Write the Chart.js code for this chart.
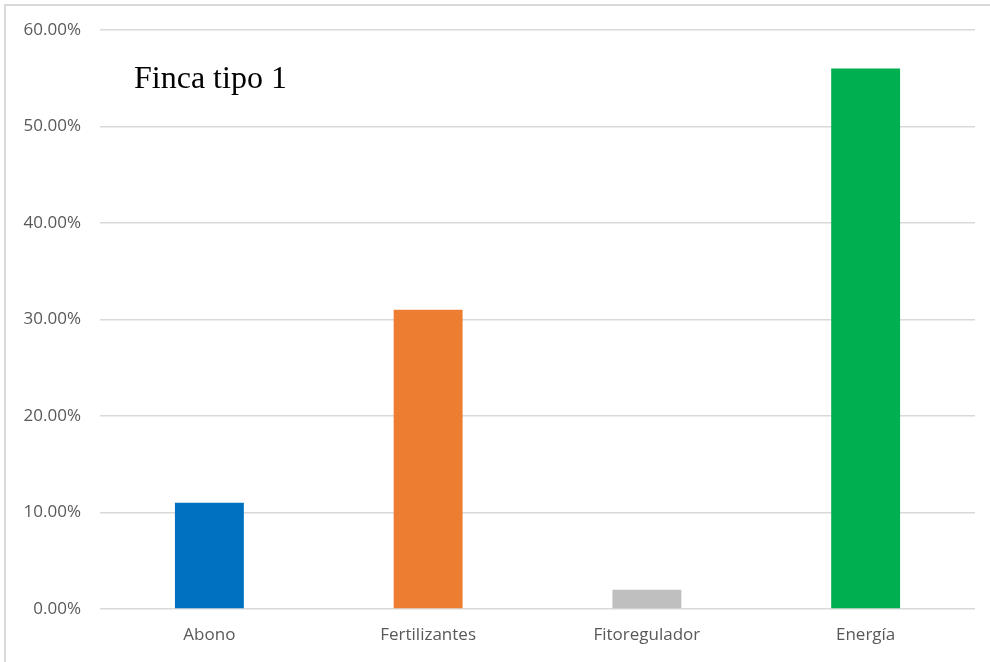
<!DOCTYPE html>
<html lang="es">
<meta charset="utf-8" />
<title>Finca tipo 1</title>
<script src="https://cdn.jsdelivr.net/npm/chart.js@4.4.1"></script>
<style>
html,body{margin:0;padding:0;background:#fff}
#wrap{position:relative;width:990px;height:662px;overflow:hidden}
#frame{position:absolute;left:4px;top:4px;width:1000px;height:700px;border-top:2px solid #d9d9d9;border-left:2px solid #d9d9d9;pointer-events:none}
canvas{position:absolute;left:0;top:0}
</style>
<body>
<div id="wrap">
  <canvas id="chart" width="990" height="662"></canvas>
  <div id="frame"></div>
</div>
<script>
// datos
const categorias = ['Abono', 'Fertilizantes', 'Fitoregulador', 'Energía'];
const valores    = [11, 31, 2, 56];          // porcentaje
const colores    = ['#0070C0', '#ED7D31', '#BFBFBF', '#00B050'];
const titulo     = 'Finca tipo 1';

// título dentro del área de trazado
const tituloPlugin = {
  id: 'tituloInterno',
  afterDraw(chart) {
    const c = chart.ctx;
    c.save();
    c.font = '32px "Liberation Serif", "Times New Roman", serif';
    c.fillStyle = '#000';
    c.textBaseline = 'alphabetic';
    c.fillText(titulo, 134, 88);
    c.restore();
  }
};

const fuenteEjes = { family: '"Open Sans", sans-serif', size: 17 };

new Chart(document.getElementById('chart'), {
  type: 'bar',
  data: {
    labels: categorias,
    datasets: [{
      data: valores,
      backgroundColor: colores,
      borderWidth: 0,
      categoryPercentage: 1,
      barPercentage: 0.315
    }]
  },
  options: {
    responsive: false,
    animation: false,
    layout: { padding: { top: 30, right: 15, left: 0, bottom: 0 } },
    plugins: { legend: { display: false }, tooltip: { enabled: false } },
    scales: {
      x: {
        grid: { display: false, drawTicks: false },
        border: { display: false },
        ticks: { color: '#595959', padding: 16, font: fuenteEjes },
        afterFit(s) { s.height = 53; }
      },
      y: {
        min: 0, max: 60,
        ticks: {
          stepSize: 10, color: '#595959', padding: 19, font: fuenteEjes,
          callback: v => v.toFixed(2) + '%'
        },
        grid: { color: '#d9d9d9', lineWidth: 1.5, drawTicks: false },
        border: { display: false },
        afterFit(s) { s.width = 100; }
      }
    }
  },
  plugins: [tituloPlugin]
});
</script>
</body>
</html>
